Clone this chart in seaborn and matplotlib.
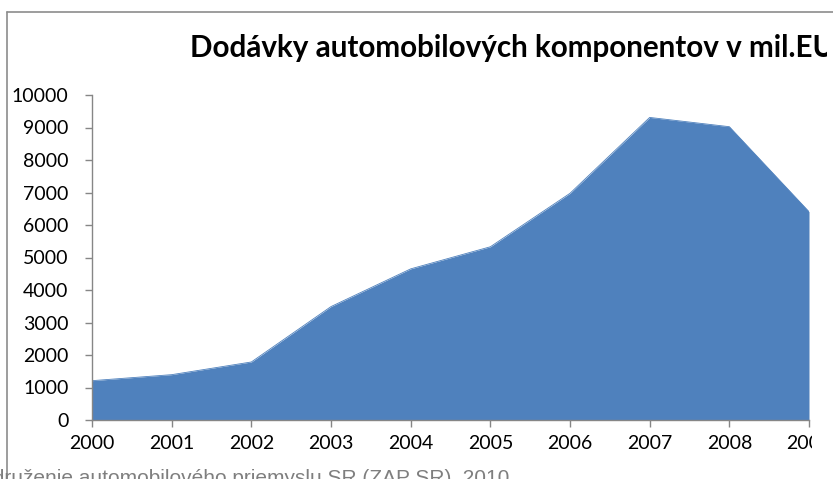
import numpy as np
import pandas as pd
import seaborn as sns
import matplotlib.pyplot as plt
from matplotlib.lines import Line2D
from matplotlib.transforms import Bbox, TransformedBbox

# ----------------------------------------
# Data
# ----------------------------------------
years = [2000, 2001, 2002, 2003, 2004, 2005, 2006, 2007, 2008, 2009]
deliveries = [1210, 1395, 1785, 3490, 4650, 5330, 6975, 9310, 9025, 6410]
y_ticks = [0, 1000, 2000, 3000, 4000, 5000, 6000, 7000, 8000, 9000, 10000]

title_text = "Dodávky automobilových komponentov v mil.EUR"
source_text = "Združenie automobilového priemyslu SR (ZAP SR), 2010"

df = pd.DataFrame({"rok": years, "hodnota": deliveries})

# ----------------------------------------
# Style
# ----------------------------------------
sns.set_style("white")
plt.rcParams['font.family'] = ['Lato', 'DejaVu Sans']

area_color = "#4F81BD"
axis_color = "#868686"

fig = plt.figure(figsize=(8.33, 4.79), dpi=100)
ax = fig.add_axes([92 / 833, 1 - 420 / 479, (809 - 92) / 833, (420 - 95) / 479])

# the chart object is cut on the right side in the original screenshot
clip_title = TransformedBbox(Bbox([[0, 0], [827 / 833, 1]]), fig.transFigure)
clip_ticks = TransformedBbox(Bbox([[0, 0], [812 / 833, 1]]), fig.transFigure)

# area: seaborn line for the edge, fill below it
sns.lineplot(data=df, x="rok", y="hodnota", ax=ax, color=area_color, linewidth=0.6)
ax.fill_between(df["rok"], df["hodnota"], 0, color=area_color, linewidth=0)

ax.set_xlim(years[0], years[-1])
ax.set_ylim(y_ticks[0], y_ticks[-1])
ax.set_xticks(years)
ax.set_xticklabels([str(y) for y in years])
ax.set_yticks(y_ticks)
ax.set_yticklabels([str(t) for t in y_ticks])
ax.set_xlabel("")
ax.set_ylabel("")

for side in ["top", "right"]:
    ax.spines[side].set_visible(False)
for side in ["left", "bottom"]:
    ax.spines[side].set_color(axis_color)
    ax.spines[side].set_linewidth(1)

ax.tick_params(axis="both", direction="out", length=5, width=1, color=axis_color,
               labelsize=14, labelcolor="black")
ax.tick_params(axis="y", left=True, pad=12)
ax.tick_params(axis="x", bottom=True, pad=6)
for lbl in ax.get_xticklabels():
    lbl.set_clip_on(True)
    lbl.set_clip_box(clip_ticks)

# title (runs past the right edge like in the original)
title = fig.text(190 / 833, 1 - 48 / 479, title_text, fontsize=21.3, fontweight="bold",
                 ha="left", va="center", color="black")
title.set_clip_on(True)
title.set_clip_box(clip_title)

# chart frame (left and top edges visible)
frame_col = "#8c8c8c"
fig.add_artist(Line2D([7 / 833, 7 / 833], [0, 1 - 12 / 479],
                      transform=fig.transFigure, color=frame_col, linewidth=1.2))
fig.add_artist(Line2D([7 / 833, 1], [1 - 12 / 479, 1 - 12 / 479],
                      transform=fig.transFigure, color=frame_col, linewidth=1.2))

# source note, cut by the bottom edge
fig.text(509 / 833, 1 - 469 / 479, source_text, fontsize=15,
         family=["Liberation Sans", "DejaVu Sans"], color="#7f7f7f",
         ha="right", va="top")

fig.savefig("out.png", dpi=100)
